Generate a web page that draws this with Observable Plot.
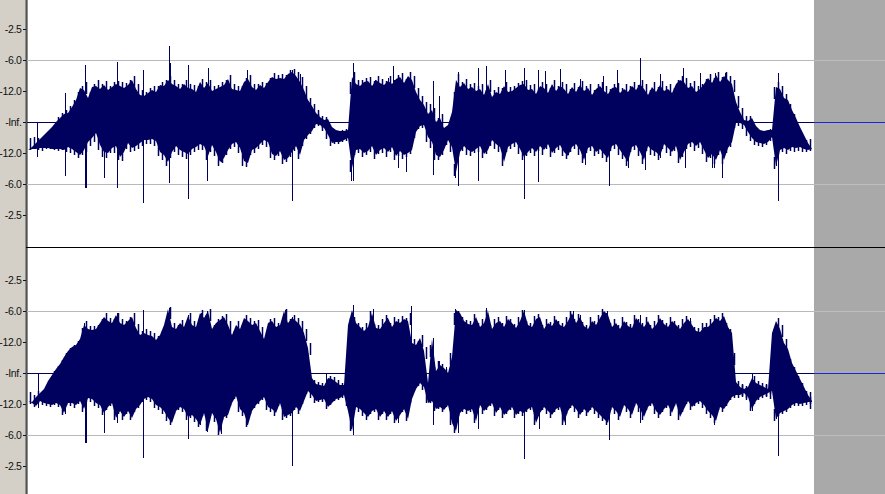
<!DOCTYPE html>
<html><head><meta charset="utf-8">
<script src="https://cdn.jsdelivr.net/npm/d3@7"></script>
<script src="https://cdn.jsdelivr.net/npm/@observablehq/plot@0.6"></script>
<style>html,body{margin:0;padding:0;background:#fff;overflow:hidden}svg{display:block}
svg [aria-label="y-axis tick label"] text{letter-spacing:-.35px}</style>
</head><body><div id="chart"></div>
<script>
// Amplitude is in counts where 124 = full scale; time runs along the track.
const times = d3.range(28, 813, 4);
const toothTimes = d3.range(30, 811, 4);
const tickAmps = [93, 62, 31, 0, -31, -62, -93];
const tickLabels = ["-2.5", "-6.0", "-12.0", "-Inf.", "-12.0", "-6.0", "-2.5"];

const ch1Top = [-28,-25,-21,-17,-13,-9,-5,0,4,8,
9,15,22,34,32,24,35,36,33,37,
32,35,38,36,34,37,42,33,27,26,
29,32,30,37,36,42,38,36,33,38,
34,33,30,40,34,39,31,33,35,37,
43,33,32,31,40,43,35,32,37,34,
40,45,43,44,43,48,50,46,40,32,
22,16,9,5,2,3,-5,-8,-9,-9,
-8,45,38,36,40,41,36,42,39,37,
41,38,43,45,39,46,42,30,22,17,
8,12,0,4,-6,-3,10,42,35,39,
33,35,31,33,27,38,25,30,28,36,
30,31,34,37,38,32,33,28,36,34,
29,38,31,36,33,28,35,30,37,31,
34,27,33,36,31,28,34,35,29,33,
30,36,32,38,33,27,35,30,37,31,
33,29,38,42,40,34,36,30,33,38,
44,39,47,40,46,42,38,20,10,2,
1,4,-4,-8,-9,-8,-8,35,33,24,
22,12,4,-5,-13,-21,-27];
const ch1Bot = [-28,-27,-27,-26,-26,-26,-27,-27,-27,-28,
-25,-27,-30,-33,-28,-20,-16,-11,-23,-30,
-31,-26,-24,-35,-30,-21,-26,-24,-21,-18,
-18,-17,-19,-30,-33,-40,-30,-24,-28,-30,
-32,-27,-25,-22,-24,-34,-23,-30,-40,-36,
-28,-22,-20,-26,-39,-41,-28,-26,-22,-18,
-20,-32,-34,-29,-38,-36,-30,-24,-33,-18,
-13,-9,-2,-3,-6,-13,-21,-20,-20,-18,
-16,-46,-28,-27,-31,-29,-24,-33,-28,-26,
-30,-25,-34,-29,-33,-31,-28,-10,-4,-3,
-15,-20,-33,-35,-28,-18,-25,-50,-30,-24,
-28,-30,-27,-24,-32,-28,-18,-22,-25,-40,
-25,-22,-20,-27,-35,-30,-26,-30,-24,-28,
-22,-31,-26,-23,-30,-34,-25,-22,-28,-38,
-26,-24,-30,-27,-32,-36,-24,-22,-28,-34,
-40,-25,-23,-30,-38,-24,-28,-30,-34,-22,
-26,-30,-24,-38,-30,-22,-20,-24,-20,-28,
-36,-32,-38,-28,-38,-26,-20,-1,-1,-3,
-10,-16,-20,-21,-22,-20,-15,-44,-28,-26,
-28,-25,-26,-25,-27,-28,-27];
const ch2Top = [-28,-29,-24,-20,-16,-8,-2,4,9,16,
22,26,28,34,48,44,43,44,50,56,
52,50,58,50,48,52,56,45,38,40,
38,37,33,38,48,64,46,44,50,46,
57,48,46,60,55,62,44,50,53,56,
48,38,48,44,55,52,48,50,42,34,
50,52,46,48,62,50,55,52,48,40,
25,-5,-11,-12,-13,-5,-6,-9,-12,-12,
48,63,50,46,42,46,60,45,44,50,
55,46,52,50,54,52,30,28,35,22,
-10,34,2,8,5,0,16,63,60,52,
49,48,56,46,50,62,44,50,52,46,
54,50,45,52,62,48,46,54,56,44,
50,47,54,48,46,52,60,50,56,47,
44,52,48,55,62,58,46,50,44,52,
47,45,55,50,46,52,44,48,55,49,
46,52,48,44,50,54,48,42,41,46,
46,50,55,52,57,46,40,-9,-14,-16,
-14,-5,-10,-12,-14,-16,40,52,44,30,
24,10,2,-6,-14,-22,-28];
const ch2Bot = [-28,-30,-33,-28,-30,-31,-32,-30,-32,-40,
-30,-30,-32,-28,-36,-25,-26,-30,-32,-40,
-34,-30,-45,-38,-44,-38,-45,-36,-32,-26,
-24,-26,-32,-34,-38,-45,-50,-38,-34,-36,
-44,-42,-46,-52,-40,-57,-40,-46,-60,-44,
-42,-30,-23,-36,-40,-52,-38,-32,-28,-24,
-34,-36,-40,-30,-44,-42,-40,-34,-38,-28,
-18,-22,-28,-27,-26,-34,-30,-26,-25,-22,
-38,-58,-34,-36,-40,-44,-38,-36,-44,-38,
-44,-38,-48,-42,-36,-46,-26,-16,-10,-14,
-30,-28,-36,-34,-37,-32,-50,-58,-40,-36,
-38,-36,-48,-32,-38,-34,-30,-40,-34,-42,
-38,-34,-42,-38,-40,-36,-34,-50,-40,-34,
-38,-42,-36,-34,-50,-38,-32,-36,-42,-36,
-40,-34,-38,-42,-46,-50,-34,-38,-44,-32,
-36,-42,-30,-36,-44,-34,-30,-38,-42,-36,
-32,-40,-30,-44,-36,-28,-34,-30,-28,-32,
-38,-42,-48,-34,-36,-30,-24,-22,-22,-20,
-24,-36,-28,-24,-22,-20,-18,-46,-40,-38,
-36,-32,-30,-31,-30,-29,-29];

// Fine teeth between the envelope samples
const ch1TopTeeth = [null,null,null,null,null,null,null,5,9,12,
16,22,30,36,40,30,38,42,38,41,
36,40,41,40,39,42,46,38,32,30,
34,36,36,40,42,46,42,38,38,42,
38,37,36,43,40,42,36,37,40,42,
47,38,36,36,44,47,38,38,40,39,
44,49,47,48,47,52,53,50,45,36,
24,18,12,6,5,null,null,null,null,null,
40,50,42,42,44,45,41,46,43,41,
46,42,47,49,43,50,46,34,26,20,
18,14,4,8,null,null,30,48,40,43,
38,39,36,38,32,42,32,35,34,40,
35,36,39,41,42,37,38,33,40,38,
34,42,36,40,38,33,39,35,41,36,
38,32,38,40,36,33,38,39,34,38,
36,40,37,42,38,32,40,35,41,36,
38,34,42,46,44,39,41,36,38,43,
48,44,50,45,50,46,42,26,14,6,
6,null,null,null,null,null,35,40,36,28,
18,8,null,null,null,null];
const ch1BotTeeth = [-28,-27,-28,-29,-27,-27,-28,-29,-28,-30,
-31,-33,-36,-33,-30,-24,-20,-28,-35,-36,
-31,-31,-38,-39,-27,-30,-29,-27,-24,-22,
-22,-24,-34,-38,-44,-36,-30,-33,-35,-37,
-33,-30,-28,-28,-38,-30,-34,-44,-41,-33,
-27,-25,-31,-44,-45,-33,-31,-27,-23,-25,
-36,-38,-34,-42,-40,-35,-29,-37,-24,-17,
-12,-6,-4,-9,-17,-24,-22,-22,-20,-19,
-50,-33,-31,-35,-33,-30,-37,-32,-31,-35,
-30,-38,-34,-37,-35,-32,-16,-7,-6,-20,
-26,-38,-38,-33,-23,-30,-54,-35,-29,-33,
-34,-31,-30,-36,-32,-24,-27,-30,-44,-30,
-27,-25,-32,-38,-34,-31,-34,-29,-33,-27,
-35,-31,-28,-34,-37,-30,-27,-33,-41,-31,
-29,-34,-32,-36,-40,-29,-27,-33,-37,-44,
-30,-28,-34,-42,-29,-33,-34,-38,-27,-31,
-34,-29,-41,-35,-27,-25,-29,-26,-32,-40,
-36,-42,-33,-42,-31,-25,-6,-4,-7,-14,
-19,-23,-24,-25,-23,-19,-47,-33,-30,-32,
-29,-30,-29,-30,-30,-29];
const ch2TopTeeth = [null,null,null,null,null,null,2,7,13,20,
25,28,32,45,52,47,47,48,54,60,
55,54,60,54,52,56,60,49,42,44,
42,40,37,42,52,66,50,48,53,50,
60,52,50,63,58,64,48,54,57,59,
52,42,52,48,58,55,52,53,46,38,
54,55,50,52,64,54,58,55,52,44,
30,-7,-9,-10,-10,-3,-4,-7,-10,-9,
55,56,50,46,50,62,49,48,54,58,
50,56,54,57,55,60,34,32,38,26,
28,6,12,9,4,20,60,62,56,53,
52,59,50,54,63,48,54,56,50,57,
54,49,56,63,52,50,57,59,48,54,
51,57,52,50,56,62,54,59,51,48,
56,52,58,64,60,50,54,48,56,51,
49,58,54,50,56,48,52,58,53,50,
56,52,48,54,57,52,46,45,50,50,
54,58,56,60,50,44,20,-8,-12,-13,
-10,-3,-8,-10,-12,-14,44,55,48,34,
14,6,-3,-10,-18,-24];
const ch2BotTeeth = [-31,-34,-30,-32,-33,-34,-32,-34,-42,-32,
-33,-35,-31,-39,-29,-29,-33,-35,-42,-37,
-33,-47,-41,-47,-41,-47,-39,-35,-29,-27,
-29,-35,-37,-41,-48,-52,-41,-37,-39,-47,
-45,-49,-54,-43,-58,-43,-49,-62,-47,-45,
-33,-26,-39,-43,-54,-41,-35,-31,-27,-37,
-39,-43,-33,-47,-45,-43,-37,-41,-31,-21,
-25,-30,-29,-29,-36,-32,-28,-27,-25,-33,
-58,-37,-39,-43,-47,-41,-39,-47,-41,-47,
-41,-50,-45,-39,-48,-30,-18,-13,-17,-30,
-30,-38,-36,-39,-34,-52,-60,-43,-39,-41,
-39,-50,-35,-41,-37,-33,-43,-37,-45,-41,
-37,-45,-41,-43,-39,-37,-52,-43,-37,-41,
-45,-39,-37,-52,-41,-35,-39,-45,-39,-43,
-37,-41,-45,-48,-52,-37,-41,-47,-35,-39,
-45,-33,-39,-47,-37,-33,-41,-45,-39,-35,
-43,-33,-47,-39,-31,-37,-33,-31,-35,-41,
-45,-50,-37,-39,-33,-27,-25,-25,-23,-27,
-38,-31,-27,-25,-23,-21,-48,-43,-41,-39,
-35,-33,-33,-33,-32,-31];

// Isolated peaks: [time, amplitude]
const ch1Up = [[65,29],[85,57],[117,60],[143,52],[169,76],[170,59],[188,57],[208,54],[247,52],[292,52],[300,48],[353,59],[375,42],[388,44],[393,56],[433,41],[439,26],[458,50],[478,54],[486,56],[505,52],[524,54],[538,52],[545,51],[560,53],[580,43],[603,46],[617,52],[640,64],[660,48],[683,54],[700,49],[715,49],[725,49],[778,49]];
const ch1Down = [[37,-35],[65,-54],[85,-66],[86,-66],[104,-56],[117,-66],[143,-81],[169,-61],[188,-77],[207,-59],[221,-40],[246,-42],[292,-79],[351,-59],[353,-59],[398,-46],[406,-50],[433,-53],[455,-56],[458,-64],[478,-59],[524,-77],[538,-60],[568,-33],[585,-43],[609,-64],[628,-46],[645,-48],[660,-36],[685,-46],[712,-46],[714,-46],[722,-56],[776,-44],[778,-79]];
const ch2Up = [[84,50],[117,60],[143,63],[169,65],[188,58],[201,60],[207,62],[285,63],[292,56],[353,68],[373,64],[387,55],[411,67],[433,35],[439,12],[446,6],[452,16],[455,64],[486,65],[524,63],[538,55],[573,62],[580,58],[607,62],[640,58],[690,55]];
const ch2Down = [[38,-35],[65,-41],[85,-70],[86,-70],[104,-60],[117,-50],[143,-85],[170,-52],[188,-66],[200,-52],[207,-59],[221,-61],[247,-52],[292,-93],[326,-36],[351,-56],[353,-62],[398,-50],[433,-52],[454,-58],[458,-60],[478,-56],[524,-86],[539,-56],[565,-52],[609,-67],[640,-50],[714,-52],[752,-38],[776,-46],[778,-83]];

const navy = "#00005e";
function channel(top, bot, topTeeth, botTeeth, up, down, yDomain, height, separator) {
  const env = times.map((t, i) => ({t, top: top[i], bot: bot[i]}));
  const toothLen = 12;
  const teethUp = toothTimes.map((t, i) => ({t, a: topTeeth[i]})).filter(d => d.a != null);
  const teethDown = toothTimes.map((t, i) => ({t, a: botTeeth[i]}));
  const marks = [
    Plot.rect([0], {x1: 0, x2: 25, y1: yDomain[0], y2: yDomain[1], fill: "#d4d0c8"}),
    Plot.rect([0], {x1: 814, x2: 885, y1: yDomain[0], y2: yDomain[1], fill: "#a9a9a9"}),
    Plot.ruleX([25.5, 26.5], {stroke: "#1a1a1a"}),
    Plot.ruleY([62, -62], {x1: 27, x2: 814, stroke: "#b9b9b9"}),
    Plot.ruleY([62, -62], {x1: 814, x2: 885, stroke: "#bdbdbd"}),
    Plot.ruleY([0], {x1: 27, x2: 814, stroke: navy}),
    Plot.ruleY([0], {x1: 814, x2: 885, stroke: "#2222dd"}),
    Plot.areaY(env, {x: "t", y1: "top", y2: "bot", fill: navy, curve: "linear"}),
    Plot.ruleX(teethUp, {x: "t", y1: d => d.a - toothLen, y2: "a", stroke: navy, strokeWidth: 1.5}),
    Plot.ruleX(teethDown, {x: "t", y1: d => d.a + toothLen, y2: "a", stroke: navy, strokeWidth: 1.5}),
    Plot.ruleX(up, {x: d => d[0], y1: 0, y2: d => d[1], stroke: navy}),
    Plot.ruleX(down, {x: d => d[0], y1: 0, y2: d => d[1], stroke: navy}),
    Plot.axisY({
      ticks: tickAmps, anchor: "left", label: null, tickSize: 3, tickPadding: 2,
      tickFormat: d => tickLabels[tickAmps.indexOf(d)],
      fontFamily: "Liberation Sans", fontSize: 10.5, color: "#111"
    })
  ];
  if (separator != null) marks.push(Plot.ruleY([separator], {stroke: "#000"}));
  return Plot.plot({
    width: 885, height,
    marginTop: 0, marginBottom: 0, marginRight: 0, marginLeft: 26,
    x: {domain: [26, 885], axis: null},
    y: {domain: yDomain, axis: null},
    style: {background: "#fff", overflow: "hidden"},
    marks
  });
}
const chart = document.getElementById("chart");
chart.append(channel(ch1Top, ch1Bot, ch1TopTeeth, ch1BotTeeth, ch1Up, ch1Down, [-126, 122], 248, -125));
chart.append(channel(ch2Top, ch2Bot, ch2TopTeeth, ch2BotTeeth, ch2Up, ch2Down, [-121, 125], 246, null));
</script></body></html>
